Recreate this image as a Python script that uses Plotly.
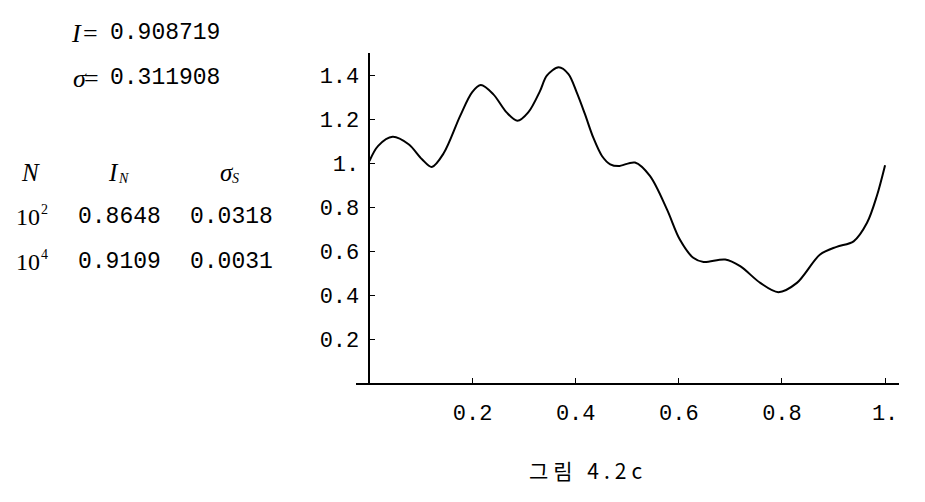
import plotly.graph_objects as go

# curve samples
curve_x = [0.000, 0.017, 0.045, 0.076, 0.102, 0.121, 0.144, 0.176, 0.199, 0.216,
           0.240, 0.266, 0.287, 0.308, 0.331, 0.344, 0.367, 0.386, 0.402, 0.418,
           0.434, 0.451, 0.467, 0.483, 0.515, 0.544, 0.577, 0.602, 0.628, 0.648,
           0.690, 0.719, 0.758, 0.793, 0.829, 0.874, 0.906, 0.939, 0.965, 0.984,
           1.000]
curve_y = [1.009, 1.078, 1.119, 1.085, 1.017, 0.982, 1.044, 1.214, 1.321, 1.354,
           1.313, 1.230, 1.192, 1.230, 1.328, 1.397, 1.435, 1.404, 1.321, 1.222,
           1.116, 1.032, 0.994, 0.986, 1.002, 0.941, 0.789, 0.652, 0.569, 0.550,
           0.561, 0.531, 0.455, 0.413, 0.455, 0.584, 0.619, 0.644, 0.728, 0.850,
           0.990]

x_tickvals = [0.2, 0.4, 0.6, 0.8, 1.0]
x_ticktext = ["0.2", "0.4", "0.6", "0.8", "1."]
y_tickvals = [0.2, 0.4, 0.6, 0.8, 1.0, 1.2, 1.4]
y_ticktext = ["0.2", "0.4", "0.6", "0.8", "1.", "1.2", "1.4"]

I_text = "0.908719"
sigma_text = "0.311908"
table_base = ["10", "10"]
table_exp = ["2", "4"]
table_IN = ["0.8648", "0.9109"]
table_sS = ["0.0318", "0.0031"]
caption = "그림 4.2c"

OFF = 8  # page body margin
W, H = 925 - OFF, 502 - OFF
L, R, T, B = 356 - OFF, 26, 53 - OFF, 119
xr = [-0.026, 1.027]
yr = [0.0, 1.5]

MONO = "Liberation Mono"
SERIF = "Liberation Serif"

fig = go.Figure()
fig.add_trace(go.Scatter(x=curve_x, y=curve_y, mode="lines",
                         line=dict(color="black", width=2, shape="spline", smoothing=0.9),
                         hoverinfo="skip", showlegend=False))

fig.update_layout(
    width=W, height=H,
    margin=dict(l=L, r=R, t=T, b=B, pad=0),
    paper_bgcolor="white", plot_bgcolor="white",
    showlegend=False,
    xaxis=dict(range=xr, showgrid=False, zeroline=False, showline=True,
               linecolor="black", linewidth=1.5, ticks="inside", ticklen=5,
               tickwidth=1.2, tickcolor="black", tickvals=x_tickvals,
               ticktext=x_ticktext, ticklabelstandoff=9,
               tickfont=dict(family=MONO, size=22, color="black")),
    yaxis=dict(range=yr, showgrid=False, zeroline=False, showline=True,
               linecolor="black", linewidth=1.5, ticks="inside", ticklen=5,
               tickwidth=1.2, tickcolor="black", tickvals=y_tickvals,
               ticktext=y_ticktext, anchor="free",
               position=(0 - xr[0]) / (xr[1] - xr[0]), ticklabelstandoff=5,
               tickfont=dict(family=MONO, size=22, color="black")),
)

pw = W - L - R
ph = H - T - B


def px(xp):
    return (xp - OFF - L) / pw


def py(yp):
    return (H - B - (yp - OFF)) / ph


ann = []


def add(text, x, y, size=23, family=MONO, xanchor="center"):
    ann.append(dict(text=text, x=px(x), y=py(y), xref="paper", yref="paper",
                    showarrow=False, xanchor=xanchor, yanchor="middle",
                    font=dict(family=family, size=size, color="black")))


# I = ..., sigma = ...
add("<i>I</i>", 69, 33, size=26, family=SERIF, xanchor="left")
add("=", 90, 33, size=26, family=SERIF)
add(I_text, 108, 33, xanchor="left")
add("<i>σ</i>", 71, 78, size=26, family=SERIF, xanchor="left")
add("=", 91, 78, size=26, family=SERIF)
add(sigma_text, 108, 78, xanchor="left")

# table header
add("<i>N</i>", 30, 172, size=25, family=SERIF)
add("<i>I</i>", 114, 172, size=25, family=SERIF)
add("<i>N</i>", 116, 178, size=14, family=SERIF, xanchor="left")
add("<i>σ</i>", 227, 172, size=25, family=SERIF)
add("<i>S</i>", 230, 178, size=14, family=SERIF, xanchor="left")

# table rows
for i, yy in enumerate([217, 262]):
    add(table_base[i], 42, yy, size=24, family=SERIF, xanchor="right")
    add(table_exp[i], 39, yy - 8, size=14, family=SERIF, xanchor="left")
    add(table_IN[i], 119, yy)
    add(table_sS[i], 231, yy)

ann.append(dict(text="<span style='letter-spacing:5px'>" + caption + "</span>",
                x=px(588), y=py(470), xref="paper", yref="paper",
                showarrow=False, xanchor="center", yanchor="middle",
                font=dict(family="Noto Sans CJK KR", size=21, color="black")))
fig.update_layout(annotations=ann)

fig.write_html("out.html")
